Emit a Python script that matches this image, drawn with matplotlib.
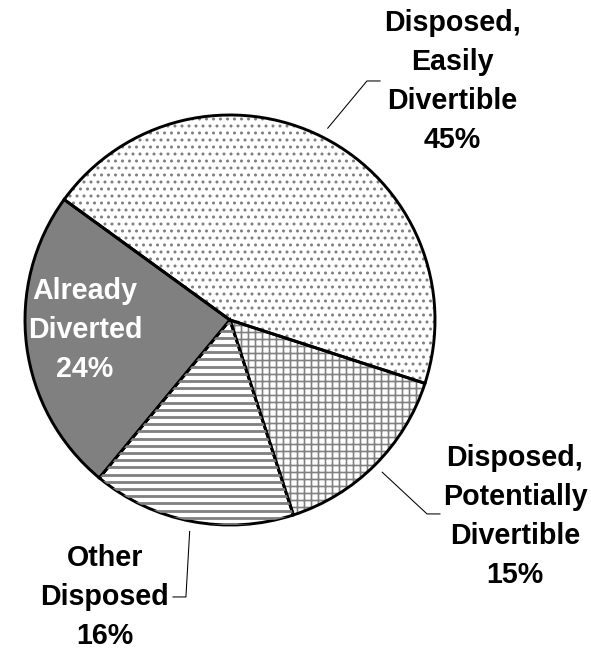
import numpy as np
import matplotlib
matplotlib.use("Agg")
import matplotlib.pyplot as plt

# slices, counter-clockwise from the start angle
labels = ["Disposed,\nEasily\nDivertible", "Already\nDiverted", "Other\nDisposed",
          "Disposed,\nPotentially\nDivertible"]
shares = [45, 24, 16, 15]
fills = ["white", "#808080", "white", "white"]
hatches = ["..", None, None, "++"]

DPI = 84
plt.rcParams["font.family"] = ["Liberation Sans", "DejaVu Sans"]
plt.rcParams["font.weight"] = "bold"
plt.rcParams["hatch.linewidth"] = 1.4

fig = plt.figure(figsize=(591 / DPI, 650 / DPI), dpi=DPI)
ax = fig.add_axes([0, 0, 1, 1])

start = -18
# hatched fill layer (gray hatch, no outline)
wedges, _ = ax.pie(shares, startangle=start, counterclock=True, colors=fills,
                   wedgeprops=dict(linewidth=0, edgecolor="#808080"))
for w, h in zip(wedges, hatches):
    if h:
        w.set_hatch(h)

# thick horizontal stripes for "Other Disposed", clipped to its wedge
ys = np.arange(-1.0, 1.0, 7.2 / 205)
stripes = ax.hlines(ys, -1.05, 1.05, color="#808080", lw=2.4)
stripes.set_clip_path(wedges[2])

# black outline layer
outl, _ = ax.pie(shares, startangle=start, counterclock=True,
                 wedgeprops=dict(fill=False, linewidth=2.5, edgecolor="black"))

# label text + leader lines (elbow, end, text centre in data units)
layout = {
    0: ((0.668, 1.166), (0.732, 1.166), (1.083, 1.163)),
    2: ((-0.215, -1.351), (-0.278, -1.351), (-0.61, -1.35)),
    3: ((0.961, -0.946), (1.024, -0.946), (1.39, -0.959)),
}
for i, w in enumerate(outl):
    mid = np.deg2rad((w.theta1 + w.theta2) / 2)
    txt = "%s\n%d%%" % (labels[i], shares[i])
    if i in layout:
        elbow, end, tpos = layout[i]
        sx, sy = 1.05 * np.cos(mid), 1.05 * np.sin(mid)
        ax.plot([sx, elbow[0], end[0]], [sy, elbow[1], end[1]], color="black", lw=0.9)
        ax.text(tpos[0], tpos[1], txt, ha="center", va="center", fontsize=24.5,
                fontweight="bold", linespacing=1.5, color="black")
    else:
        ax.text(-0.707, -0.049, txt, ha="center", va="center", fontsize=24.5,
                fontweight="bold", linespacing=1.5, color="white")

ax.set_xlim(-230 / 205, 361 / 205)
ax.set_ylim(-330 / 205, 320 / 205)
ax.set_aspect("auto")
ax.axis("off")

fig.savefig("out.png", dpi=DPI, facecolor="white")
